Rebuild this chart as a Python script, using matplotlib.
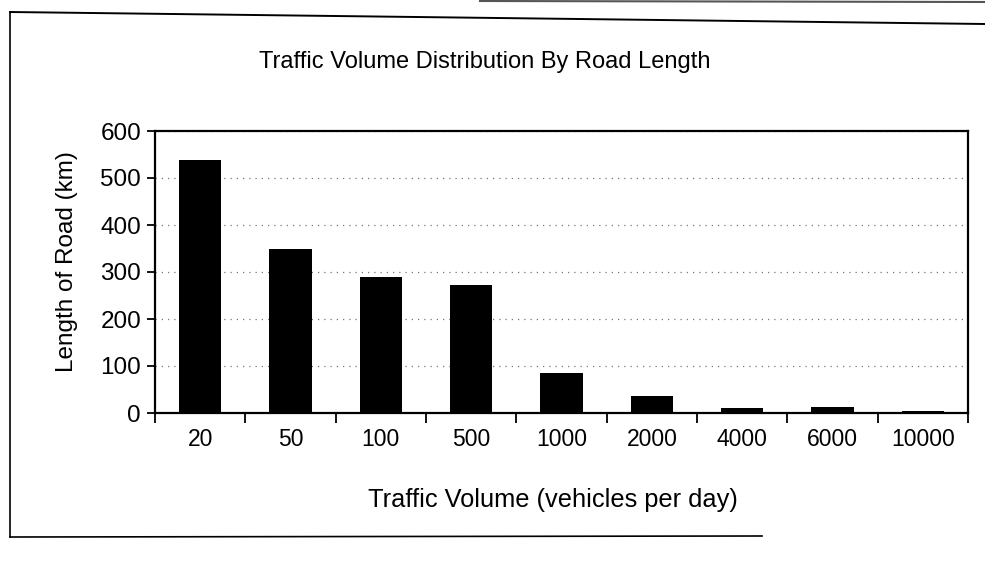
import matplotlib.pyplot as plt
from matplotlib.lines import Line2D

plt.rcParams['font.family'] = ['Liberation Sans', 'DejaVu Sans']

volumes = ['20', '50', '100', '500', '1000', '2000', '4000', '6000', '10000']
road_km = [539, 350, 290, 272, 85, 36, 10, 13, 4]
y_ticks = [0, 100, 200, 300, 400, 500, 600]

fig = plt.figure(figsize=(9.85, 5.64), dpi=100)
ax = fig.add_axes([155/985, 1 - 413/564, (968-155)/985, (413-131)/564])

x = list(range(len(volumes)))
ax.bar(x, road_km, width=0.47, color='black', zorder=3)

ax.set_xlim(-0.5, len(volumes) - 0.5)
ax.set_ylim(0, 600)
ax.set_yticks(y_ticks)
ax.set_yticklabels([str(v) for v in y_ticks], fontsize=17.5)

# category labels centred, tick marks at category boundaries
ax.set_xticks(x)
ax.set_xticklabels(volumes, fontsize=16.5)
ax.tick_params(axis='x', which='major', length=0, pad=11)
ax.set_xticks([i - 0.5 for i in range(len(volumes) + 1)], minor=True)
ax.tick_params(axis='x', which='minor', length=7, direction='out', width=1.3)
ax.tick_params(axis='y', length=6, direction='out', width=1.3, pad=4)

ax.grid(axis='y', color='#777777', linestyle=(0, (1, 4)), linewidth=0.9, zorder=0)
for s in ax.spines.values():
    s.set_linewidth(1.6)
    s.set_color('black')

ax.set_xlabel('Traffic Volume (vehicles per day)', fontsize=18.3)
ax.xaxis.label.set_va('center')
ax.xaxis.set_label_coords(0.49, (413 - 500) / (413 - 131))
ax.set_ylabel('Length of Road (km)', fontsize=17.5)
ax.yaxis.label.set_va('center')
ax.yaxis.set_label_coords((67 - 155) / (968 - 155), (413 - 262) / (413 - 131))

fig.text(485/985, 1 - 62/564, 'Traffic Volume Distribution By Road Length',
         fontsize=17, ha='center', va='center')

# outer chart frame from the scan
fig.add_artist(Line2D([10/985, 10/985], [1 - 537/564, 1 - 12/564], color='black', lw=1.2))
fig.add_artist(Line2D([10/985, 1.0], [1 - 12/564, 1 - 24/564], color='black', lw=1.4))
fig.add_artist(Line2D([10/985, 762/985], [1 - 537/564, 1 - 536/564], color='black', lw=1.2))
fig.add_artist(Line2D([480/985, 1.0], [1 - 1/564, 1 - 2/564], color='#555555', lw=1.5))

fig.savefig('out.png', dpi=100)
